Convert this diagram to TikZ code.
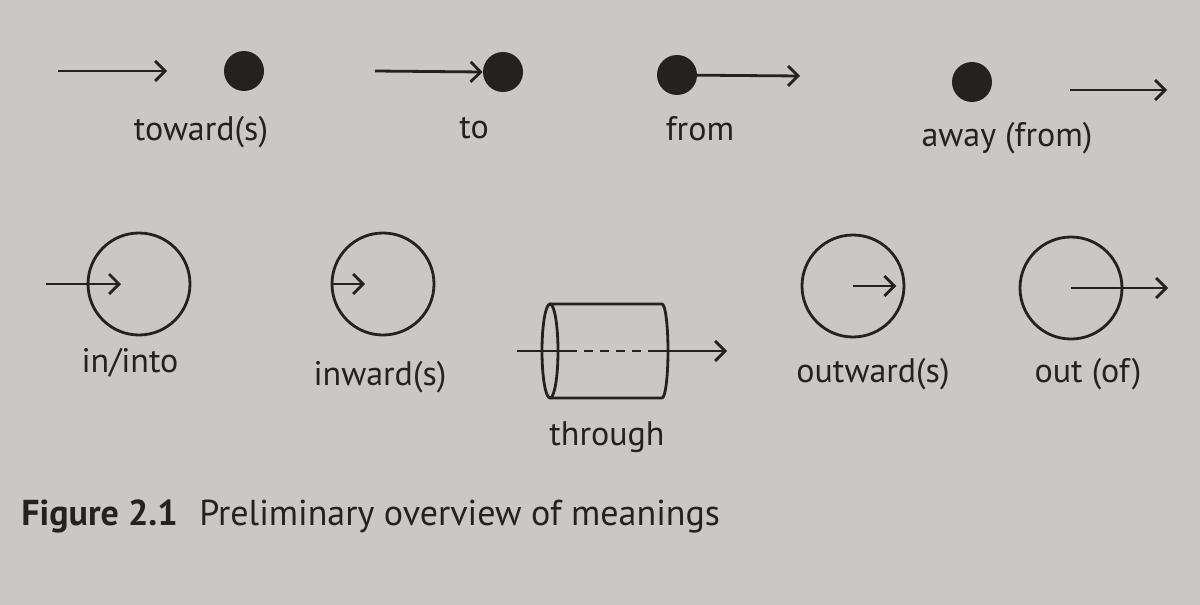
\documentclass[tikz,border=0pt]{standalone}
\usepackage{fontspec}
\setmainfont{PT Sans}
\usetikzlibrary{arrows.meta, calc, positioning}

\definecolor{paper}{RGB}{203,199,198}
\definecolor{ink}{RGB}{38,33,33}

\tikzset{
  every picture/.style = {x = 0.5pt, y = -0.5pt},
  line/.style = {draw = ink, line width = 1.4pt},
  arr/.style = {line, -{Straight Barb[length = 5pt, width = 10pt, line width = 1.4pt]}},
  dot/.style = {circle, fill = ink, inner sep = 0pt, minimum size = 20pt},
  ring/.style = {circle, line, inner sep = 0pt, minimum size = 51pt},
  word/.style = {text = ink, anchor = base, font = \fontsize{17}{20}\selectfont, inner sep = 0pt}
}

\begin{document}
\begin{tikzpicture}
  \fill[paper] (0,0) rectangle (1200,605);
  \useasboundingbox (0,0) rectangle (1200,605);

  % top row: dots
  \node [dot] (towardDot) at (244,71) {};
  \node [dot] (toDot)     at (503,72) {};
  \node [dot] (fromDot)   at (677,75) {};
  \node [dot] (awayDot)   at (972,82) {};

  \coordinate (towardA) at (58,71);
  \coordinate (towardB) at (167,71);
  \coordinate (toA)     at (375,71);
  \coordinate (fromB)   at (800,76);
  \coordinate (awayA)   at (1070,90);
  \coordinate (awayB)   at (1167,90);

  \draw [arr] (towardA) -- (towardB);
  \draw [arr] (toA) -- (toDot.west);
  \draw [arr] (fromDot.center) -- (fromB);
  \draw [arr] (awayA) -- (awayB);

  \node [word] (towardLbl) at (201,140) {toward(s)};
  \node [word] (toLbl)     at (474,138) {to};
  \node [word] (fromLbl)   at (700,140) {from};
  \node [word] (awayLbl)   at (1007,146) {away (from)};

  % second row: circles
  \node [ring] (inCirc)      at (139,284) {};
  \node [ring] (inwardCirc)  at (383,284) {};
  \node [ring] (outwardCirc) at (853,286) {};
  \node [ring] (outCirc)     at (1071,288) {};

  \coordinate (inA)      at (46,284);
  \coordinate (inB)      at (121,284);
  \coordinate (inwardB)  at (365,284);
  \coordinate (outB)     at (1168,288);

  \draw [arr] (inA) -- (inB);
  \draw [arr] (inwardCirc.west) -- (inwardB);
  \draw [arr, shorten > = 4.5pt] (outwardCirc.center) -- (outwardCirc.east);
  \draw [arr] (outCirc.center) -- (outB);

  % cylinder
  \coordinate (cylL) at (550,351);
  \coordinate (cylR) at (662,351);
  \draw [line] (cylL) ellipse [x radius = 4pt, y radius = 23.5pt];
  \draw [line, line join = round]
    ($(cylL) + (0,-47)$) -- ($(cylR) + (0,-47)$)
    arc [start angle = 90, end angle = -90, x radius = 3pt, y radius = 23.5pt]
    -- ($(cylL) + (0,47)$);
  \coordinate (thruA) at (517,351);
  \coordinate (thruB) at (727,351);
  \coordinate (thruC) at (568,351);
  \coordinate (thruD) at (657,351);
  \draw [line] (thruA) -- (thruC);
  \draw [line, dash pattern = on 4.5pt off 3.5pt] (thruC) -- (thruD);
  \draw [arr] (thruD) -- (thruB);

  \node [word] (inLbl)      at (130,372) {in/into};
  \node [word] (inwardLbl)  at (380,385) {inward(s)};
  \node [word] (thruLbl)    at (607,445) {through};
  \node [word] (outwardLbl) at (873,382) {outward(s)};
  \node [word] (outLbl)     at (1088,382) {out (of)};

  % caption
  \node [word, anchor = base west, font = \fontsize{18}{21}\selectfont] (caption) at (21,525)
    {\textbf{Figure 2.1}\hspace{0.6em}Preliminary overview of meanings};
\end{tikzpicture}
\end{document}
